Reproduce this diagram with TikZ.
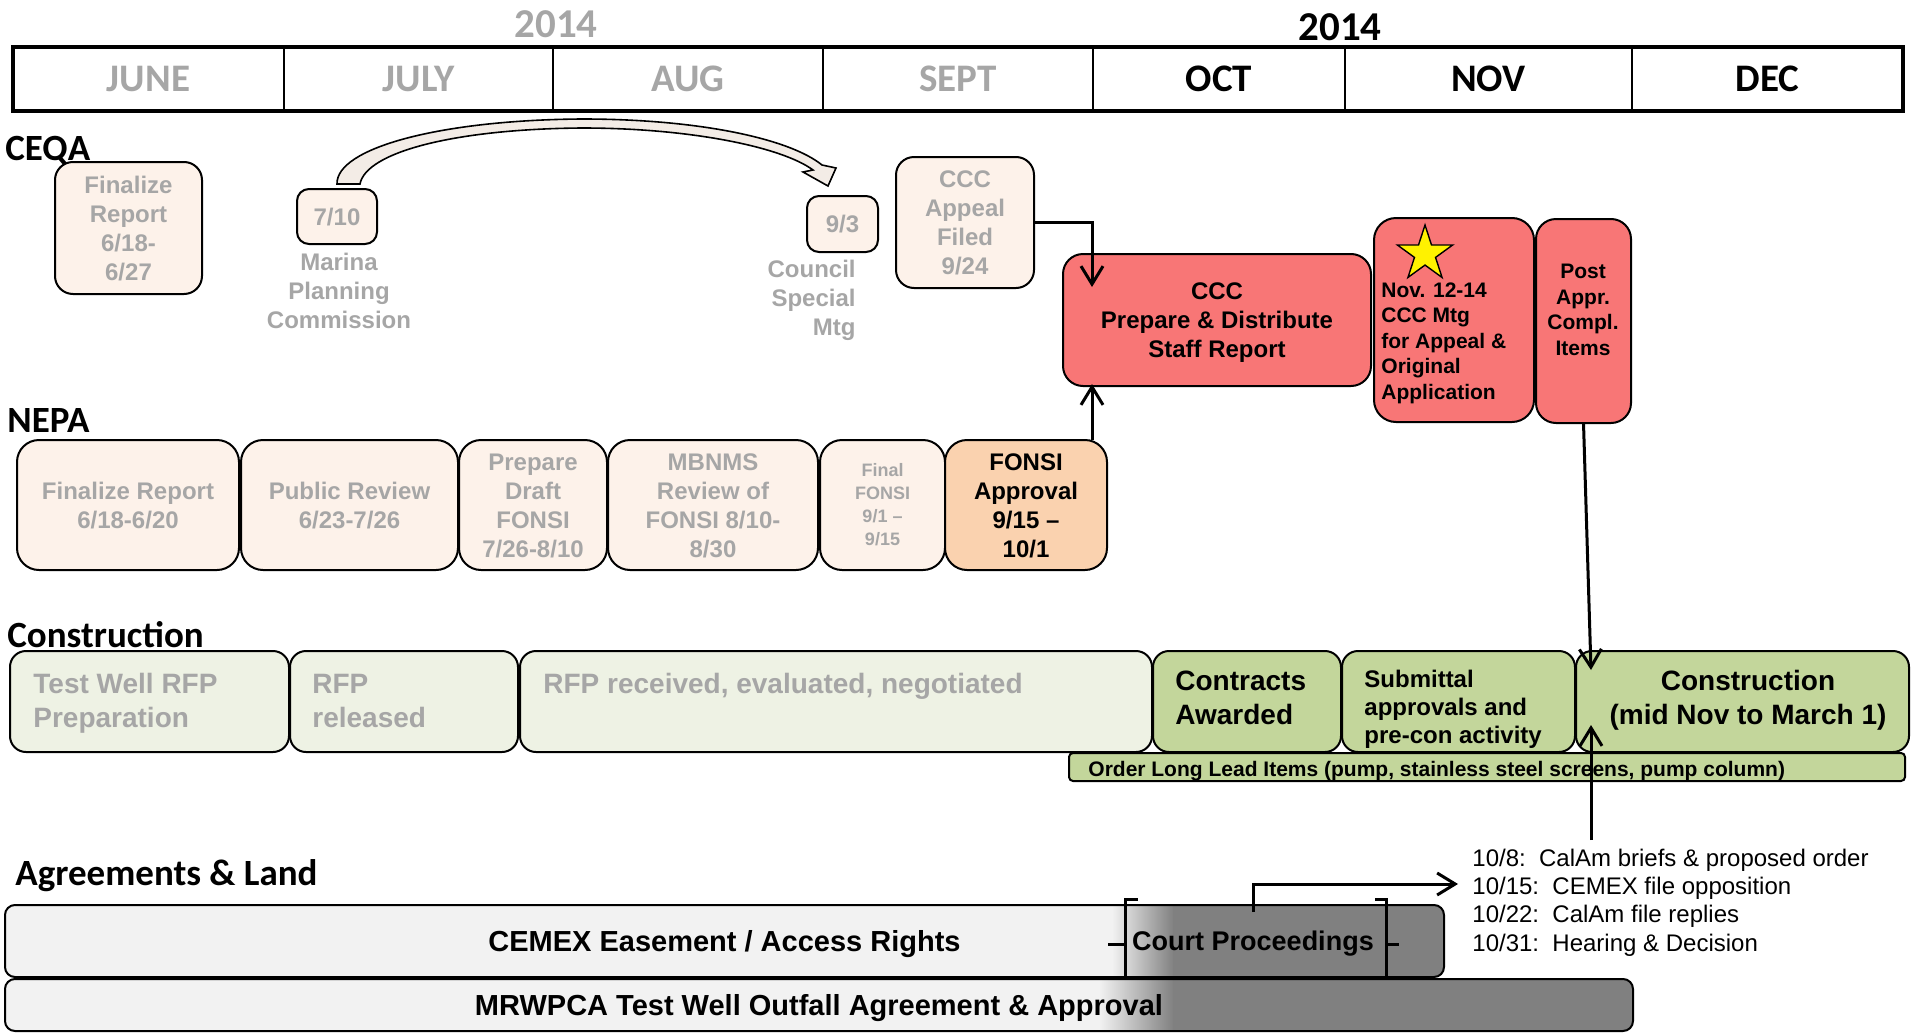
\documentclass[tikz,border=0pt]{standalone}
\usepackage{fontspec}
\setmainfont{Liberation Sans}
\newfontfamily\calib{Carlito}
\usetikzlibrary{arrows.meta,shapes.geometric}
\definecolor{peach}{HTML}{FDF2EA}
\definecolor{salmon}{HTML}{F87676}
\definecolor{apricot}{HTML}{FAD2AF}
\definecolor{lgreen}{HTML}{EEF2E4}
\definecolor{olive}{HTML}{C3D69B}
\definecolor{greytxt}{HTML}{A6A6A6}
\definecolor{lgray}{HTML}{F2F2F2}
\definecolor{dgray}{HTML}{808080}
\definecolor{arrowfill}{HTML}{F3ECE6}
\begin{document}
\begin{tikzpicture}[x=0.5pt,y=-0.5pt,
  bb/.style args={#1/#2/#3/#4}{minimum width={(#3-#1)*0.5pt}, minimum height={(#4-#2)*0.5pt}, at={({(#1+#3)/2},{(#2+#4)/2})}},
  box/.style={draw=black, line width=1pt, inner sep=0pt, outer sep=0pt, align=center},
  cell/.style={draw=black, line width=1pt, inner sep=0pt, outer sep=0pt, text depth=0pt, font=\calib\bfseries\fontsize{19.5}{23}\selectfont},
  yr/.style={font=\calib\bfseries\fontsize{20.5}{24}\selectfont, anchor=base, inner sep=0pt},
  sec/.style={font=\calib\bfseries\fontsize{18.5}{22}\selectfont, anchor=base west, inner sep=0pt},
  ftw/.style={font=\bfseries\fontsize{12}{14.5}\selectfont},
  lines/.style={text height={8.6pt+(#1-1)*14.5pt}, text depth=0pt},
  ften/.style={font=\bfseries\fontsize{10.5}{12.75}\selectfont},
  fnine/.style={font=\bfseries\fontsize{9}{11.5}\selectfont},
  ffour/.style={font=\bfseries\fontsize{14}{17}\selectfont},
  fbar/.style={font=\bfseries\fontsize{14.5}{17}\selectfont},
  txt/.style={inner sep=0pt},
  arr/.style={line width=1.5pt, -{Straight Barb[length=9pt,width=11pt]}},
]
\useasboundingbox (0,0) rectangle (1911,1033);

% ---------------- header ----------------
\node[yr, text=greytxt] (yr1) at (556,37) {2014};
\node[yr] (yr2) at (1340,40) {2014};
\node[cell, text=greytxt, bb=13/47/284/111] (jun) {JUNE};
\node[cell, text=greytxt, bb=284/47/553/111] (jul) {JULY};
\node[cell, text=greytxt, bb=553/47/823/111] (aug) {AUG};
\node[cell, text=greytxt, bb=823/47/1093/111] (sep) {SEPT};
\node[cell, bb=1093/47/1345/111] (oct) {OCT};
\node[cell, bb=1345/47/1632/111] (nov) {NOV};
\node[cell, bb=1632/47/1903/111] (dec) {DEC};
\draw[line width=1.6pt] (jun.north west) rectangle (dec.south east);

% ---------------- CEQA ----------------
\node[sec] (ceqa) at (5,160) {CEQA};
\node[box, fill=peach, rounded corners=9pt, text=greytxt, ftw, lines=4, bb=55/162/202/294] (cq1) {Finalize\\Report\\6/18-\\6/27};
\node[box, fill=peach, rounded corners=6pt, text=greytxt, ftw, lines=1, bb=297/189/377/244] (d710) {7/10};
\node[txt, text=greytxt, ftw, align=center] (marina) at (339,291) {Marina\\Planning\\Commission};
\node[box, fill=peach, rounded corners=6pt, text=greytxt, ftw, lines=1, bb=807/196/878/252] (d93) {9/3};
\node[txt, text=greytxt, ftw, align=right, anchor=east] (council) at (856,300) {Council\\Special\\Mtg};
\node[box, fill=peach, rounded corners=9pt, text=greytxt, ftw, lines=4, bb=896/157/1034/288] (ccca) {CCC\\Appeal\\Filed\\9/24};

\node[box, fill=salmon, rounded corners=10pt, ftw, lines=3, bb=1063/254/1371/386] (cccprep) {CCC\\Prepare \& Distribute\\Staff Report};
\node[box, fill=salmon, rounded corners=11pt, bb=1374/218/1534/422] (novbox) {};
\node[txt, ften, align=left, anchor=west] (novt) at (1381,343) {Nov. 12-14\\CCC Mtg\\for Appeal \&\\Original\\Application};
\node[box, fill=salmon, rounded corners=10pt, bb=1536/219/1631/423] (post) {};
\node[txt, ften, align=center] (postt) at (1583,310) {Post\\Appr.\\Compl.\\Items};
\node[star, star points=5, star point ratio=2.618, fill=yellow, draw=black, line width=0.7pt, minimum size=29pt, inner sep=0pt] (star) at (1425,254) {};

% curved block arrow 7/10 -> 9/3
\filldraw[fill=arrowfill, draw=black, line width=0.8pt]
  (337,184) .. controls (336,148) and (440,120) .. (582,119)
  .. controls (700,119) and (790,139) .. (822,165)
  -- (836,168) -- (828,186) -- (803,172) -- (813,170)
  .. controls (782,147) and (690,128) .. (582,128)
  .. controls (455,129) and (366,152) .. (360,184) -- cycle;

% ---------------- NEPA ----------------
\node[sec] (nepa) at (7,432) {NEPA};
\node[box, fill=peach, rounded corners=11pt, text=greytxt, ftw, lines=2, bb=17/440/239/570] (n1) {Finalize Report\\6/18-6/20};
\node[box, fill=peach, rounded corners=11pt, text=greytxt, ftw, lines=2, bb=241/440/458/570] (n2) {Public Review\\6/23-7/26};
\node[box, fill=peach, rounded corners=11pt, text=greytxt, ftw, lines=4, bb=459/440/607/570] (n3) {Prepare\\Draft\\FONSI\\7/26-8/10};
\node[box, fill=peach, rounded corners=11pt, text=greytxt, ftw, lines=4, bb=608/440/818/570] (n4) {MBNMS\\Review of\\FONSI 8/10-\\8/30};
\node[box, fill=peach, rounded corners=11pt, text=greytxt, fnine, text height=40.9pt, text depth=0pt, bb=820/440/945/570] (n5) {Final\\FONSI\\9/1 –\\9/15};
\node[box, fill=apricot, rounded corners=11pt, ftw, lines=4, bb=945/440/1107/570] (n6) {FONSI\\Approval\\9/15 –\\10/1};

% ---------------- Construction ----------------
\node[sec] (constr) at (7,647) {Construction};
\node[box, fill=lgreen, rounded corners=8pt, bb=10/651/289/752] (c1) {};
\node[txt, text=greytxt, ffour, align=left, anchor=west] (c1t) at (33,703) {Test Well RFP\\Preparation};
\node[box, fill=lgreen, rounded corners=8pt, bb=290/651/518/752] (c2) {};
\node[txt, text=greytxt, ffour, align=left, anchor=west] (c2t) at (312,701) {RFP\\released};
\node[box, fill=lgreen, rounded corners=8pt, bb=520/651/1152/752] (c3) {};
\node[txt, text=greytxt, ffour, anchor=base west] (c3t) at (543,693) {RFP received, evaluated, negotiated};
\node[box, fill=olive, rounded corners=8pt, bb=1153/651/1341/752] (c4) {};
\node[txt, ffour, align=left, anchor=west] (c4t) at (1175,698) {Contracts\\Awarded};
\node[box, fill=olive, rounded corners=8pt, bb=1342/651/1575/752] (c5) {};
\node[txt, font=\bfseries\fontsize{12}{14}\selectfont, align=left, anchor=west] (c5t) at (1364,709) {Submittal\\approvals and\\pre-con activity};
\node[box, fill=olive, rounded corners=8pt, bb=1576/651/1909/752] (c6) {};
\node[txt, ffour, align=center] (c6t) at (1748,700) {Construction\\(mid Nov to March 1)};
\node[box, fill=olive, rounded corners=2pt, bb=1069/753/1905/781] (order) {};
\node[txt, ften, anchor=base west] (ordert) at (1088,776) {Order Long Lead Items (pump, stainless steel screens, pump column)};

% ---------------- Agreements & Land ----------------
\node[sec] (agr) at (15,885) {Agreements \& Land};
\begin{scope}
  \clip[rounded corners=5pt] (5,905) rectangle (1444,977);
  \fill[lgray] (5,905) rectangle (1113,977);
  \shade[left color=lgray, right color=dgray] (1112,905) rectangle (1174,977);
  \fill[dgray] (1173,905) rectangle (1444,977);
\end{scope}
\begin{scope}
  \clip[rounded corners=5pt] (5,979) rectangle (1633,1031);
  \fill[lgray] (5,979) rectangle (1100,1031);
  \shade[left color=lgray, right color=dgray] (1099,979) rectangle (1174,1031);
  \fill[dgray] (1173,979) rectangle (1633,1031);
\end{scope}
\node[box, rounded corners=5pt, fbar, text depth=0pt, bb=5/905/1444/977] (cemex) {CEMEX Easement / Access Rights};
\node[box, rounded corners=5pt, fbar, text depth=0pt, bb=5/979/1633/1031] (mrwpca) {MRWPCA Test Well Outfall Agreement \& Approval};

% court proceedings bracket
\draw[line width=1.5pt] (1138,899) -- (1125,899) -- (1125,977) -- (1138,977);
\draw[line width=1.5pt] (1125,944) -- (1108,944);
\draw[line width=1.5pt] (1375,899) -- (1386,899) -- (1386,977) -- (1375,977);
\draw[line width=1.5pt] (1386,944) -- (1399,944);
\node[txt, font=\bfseries\fontsize{13.5}{16}\selectfont] (court) at (1253,944) {Court Proceedings};

% list
\node[txt, font=\fontsize{12}{14}\selectfont, anchor=base west] (l1) at (1472,866) {10/8:\ \ CalAm briefs \& proposed order};
\node[txt, font=\fontsize{12}{14}\selectfont, anchor=base west] (l2) at (1472,894) {10/15:\ \ CEMEX file opposition};
\node[txt, font=\fontsize{12}{14}\selectfont, anchor=base west] (l3) at (1472,922) {10/22:\ \ CalAm file replies};
\node[txt, font=\fontsize{12}{14}\selectfont, anchor=base west] (l4) at (1472,951) {10/31:\ \ Hearing \& Decision};

% ---------------- connectors ----------------
\coordinate (t1) at (1092,287);
\coordinate (t2) at (1092,384);
\coordinate (t3) at (1591,670);
\coordinate (s4) at (1591,840);
\coordinate (t4) at (1591,725);
\coordinate (ctop) at (1253,912);
\coordinate (ltip) at (1458,884);
\draw[arr] (ccca.east) -| (t1);
\draw[arr] (t2 |- n6.north) -- (t2);
\draw[arr] (post.south) -- (t3);
\draw[arr] (s4) -- (t4);
\draw[arr] (ctop) |- (ltip);
\end{tikzpicture}
\end{document}
